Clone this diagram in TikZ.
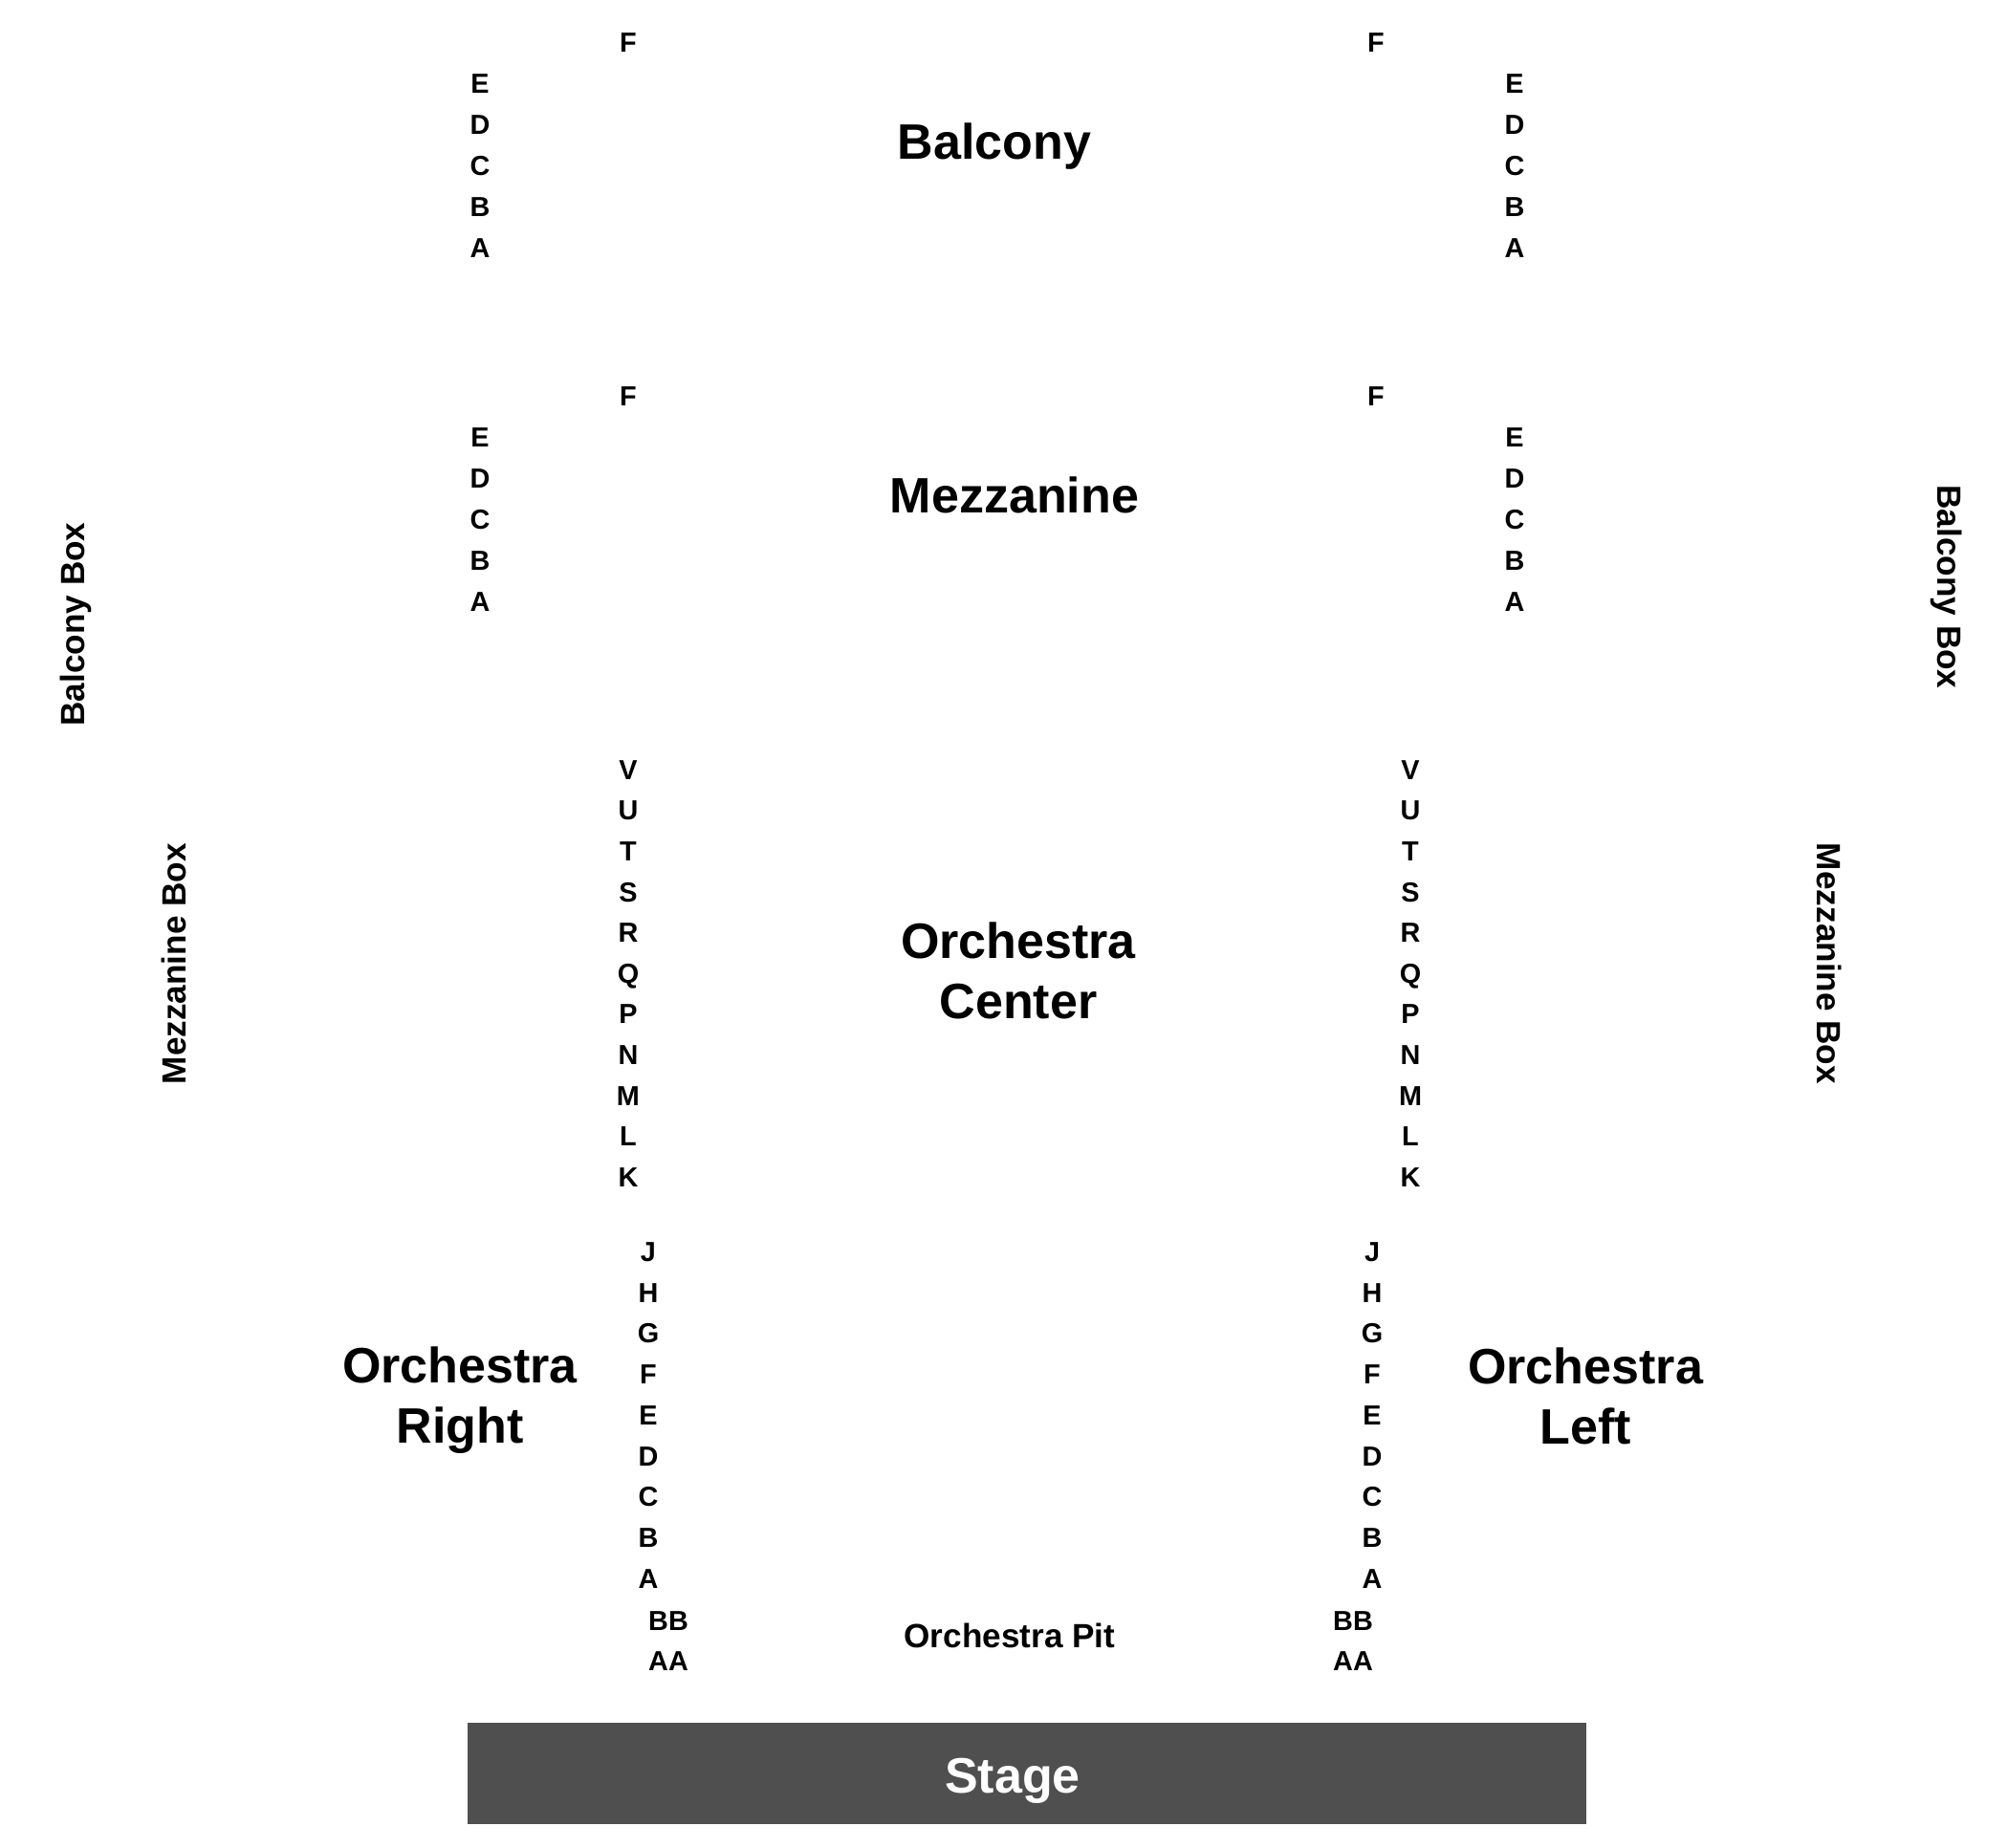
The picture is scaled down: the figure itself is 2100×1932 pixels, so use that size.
\documentclass[tikz,border=0pt]{standalone}
\usepackage{fontspec}
\setmainfont{Liberation Sans}
\definecolor{stagegray}{HTML}{4F4F4F}
\tikzstyle{rowlabel} = [inner sep=0pt, font=\bfseries\fontsize{8.2}{9.8}\selectfont, text height=5.87pt, text depth=0pt]
\tikzstyle{boxlabel} = [inner sep=0pt, font=\bfseries\fontsize{10}{12}\selectfont, text height=7.16pt, text depth=0pt]
\tikzstyle{bigfont} = [inner sep=0pt, font=\bfseries\fontsize{14.8}{17.9}\selectfont]
\tikzstyle{arealabel} = [bigfont, text height=10.6pt, text depth=0pt]
\tikzstyle{arealabeltwo} = [bigfont, align=center]

\begin{document}
\begin{tikzpicture}[x=0.01cm, y=-0.01cm]
        \useasboundingbox (0,0) rectangle (2100,1932);
        % balcony and mezzanine rows
        \node[rowlabel] (balFl) at (657,44) {F};
        \node[rowlabel] (balFr) at (1439,44) {F};
        \node[rowlabel] (mezFl) at (657,414) {F};
        \node[rowlabel] (mezFr) at (1439,414) {F};
        \foreach \r [count=\i from 0] in {E,D,C,B,A} {
            \node[rowlabel] (balL\r) at (502,{87+43*\i}) {\r};
            \node[rowlabel] (balR\r) at (1584,{87+43*\i}) {\r};
            \node[rowlabel] (mezL\r) at (502,{457+43*\i}) {\r};
            \node[rowlabel] (mezR\r) at (1584,{457+43*\i}) {\r};
        }
        \node[arealabel] (balcony) at (1040,148) {Balcony};
        \node[arealabel] (mezzanine) at (1061,518) {Mezzanine};
        % boxes
        \node[boxlabel, rotate=90] (balboxL) at (76,653) {Balcony Box};
        \node[boxlabel, rotate=-90] (balboxR) at (2039,614) {Balcony Box};
        \node[boxlabel, rotate=90] (mezboxL) at (182,1008) {Mezzanine Box};
        \node[boxlabel, rotate=-90] (mezboxR) at (1913,1008) {Mezzanine Box};
        % orchestra rows
        \foreach \r [count=\i from 0] in {V,U,T,S,R,Q,P,N,M,L,K} {
            \node[rowlabel] (ocL\r) at (657,{805+42.6*\i}) {\r};
            \node[rowlabel] (ocR\r) at (1475,{805+42.6*\i}) {\r};
        }
        \foreach \r [count=\i from 0] in {J,H,G,F,E,D,C,B,A} {
            \node[rowlabel] (osL\r) at (678,{1309+42.75*\i}) {\r};
            \node[rowlabel] (osR\r) at (1435,{1309+42.75*\i}) {\r};
        }
        \node[rowlabel] (pitLBB) at (699,1695) {BB};
        \node[rowlabel] (pitLAA) at (699,1737) {AA};
        \node[rowlabel] (pitRBB) at (1415,1695) {BB};
        \node[rowlabel] (pitRAA) at (1415,1737) {AA};
        \node[arealabeltwo] (orchcenter) at (1065,1015) {Orchestra\\Center};
        \node[arealabeltwo] (orchright) at (481,1465) {Orchestra\\Right};
        \node[arealabeltwo] (orchleft) at (1658,1460) {Orchestra\\Left};
        \node[boxlabel] (pit) at (1056,1711) {Orchestra Pit};
        % stage
        \fill[stagegray] (489,1802) rectangle (1659,1908);
        \node[arealabel, text=white] (stage) at (1059,1857) {Stage};
    \end{tikzpicture}
\end{document}
